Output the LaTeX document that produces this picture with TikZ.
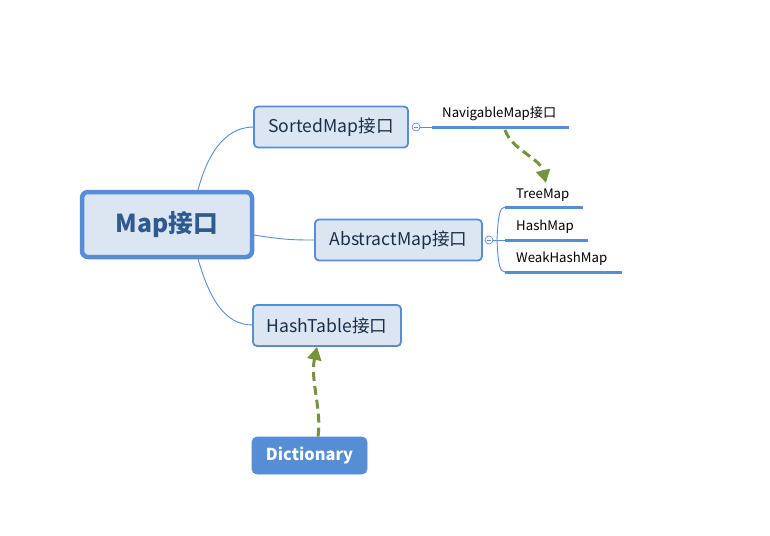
\documentclass[tikz,border=0pt]{standalone}
\usepackage{fontspec}
\setmainfont{Noto Sans CJK SC}
\usetikzlibrary{arrows.meta}
\definecolor{bord}{HTML}{558ED5}
\definecolor{boxfill}{HTML}{DCE6F2}
\definecolor{txt}{HTML}{1B2F4A}
\definecolor{maintxt}{HTML}{2F5A8F}
\definecolor{grn}{HTML}{77933C}
\tikzset{
  topic/.style={draw=bord, fill=boxfill, line width=1.8pt, rounded corners=4pt, text=txt, font=\fontsize{17.6}{20}\selectfont, inner sep=0pt, minimum height=41pt},
  conn/.style={draw=bord, line width=0.9pt},
  under/.style={draw=bord, line width=3pt},
  leaf/.style={font=\fontsize{13.2}{15}\selectfont, text=black, inner sep=0pt, anchor=west},
  knob/.style={circle, draw=bord, fill=white, line width=0.7pt, inner sep=0pt, minimum size=8pt},
  dep/.style={draw=grn, line width=3pt, dash pattern=on 9pt off 5pt, -{Triangle[length=13pt,width=14pt]}}
}
\begin{document}
\begin{tikzpicture}[x=1pt,y=-1pt]
\useasboundingbox (0,0) rectangle (770,535);
% connectors from main
\coordinate (m1) at (198,190);
\coordinate (m2) at (254,235);
\coordinate (m3) at (198,259);
\draw[conn] (m1) .. controls (210,145) and (230,127) .. (254,127);
\draw[conn] (m2) .. controls (285,240) and (295,240) .. (315,240);
\draw[conn] (m3) .. controls (210,300) and (225,325) .. (253,325);
% main
\node[draw=bord, fill=boxfill, line width=4.5pt, rounded corners=6pt, minimum width=170pt, minimum height=65pt, inner sep=0pt, text=maintxt, font=\fontsize{24.7}{28}\bfseries\selectfont] (map) at (167,224.5) {Map接口};
\node[topic, minimum width=154pt] (sorted) at (331,127) {SortedMap接口};
\node[topic, minimum width=167pt] (abs) at (398.5,240) {AbstractMap接口};
\node[topic, minimum width=148pt] (hash) at (327,325.5) {HashTable接口};
\node[draw=bord, fill=bord, line width=0.8pt, rounded corners=5pt, minimum width=115pt, minimum height=37pt, inner sep=0pt, text=white, font=\fontsize{16.4}{19}\bfseries\selectfont] (dict) at (309.5,455.5) {Dictionary};
% navigable
\node[knob] (k1) at (416,127) {};
\draw[bord, line width=0.7pt] ([xshift=-2.3pt]k1.center) -- ([xshift=2.3pt]k1.center);
\coordinate (nv0) at (432,127);
\coordinate (nv1) at (569,127);
\draw[conn] (k1) -- (nv0);
\draw[under] (nv0) -- (nv1);
\node[leaf] (nav) at (442,114) {NavigableMap接口};
% abstract children
\node[knob] (k2) at (489,240) {};
\draw[bord, line width=0.7pt] ([xshift=-2.3pt]k2.center) -- ([xshift=2.3pt]k2.center);
\coordinate (b0) at (497,240);
\coordinate (t0) at (505,207);
\coordinate (t1) at (583,207);
\coordinate (h0) at (505,240);
\coordinate (h1) at (588,240);
\coordinate (w0) at (505,272);
\coordinate (w1) at (622,272);
\draw[conn] (k2) -- (b0);
\draw[conn] (b0) .. controls (498,215) and (500,207) .. (t0);
\draw[conn] (b0) -- (h0);
\draw[conn] (b0) .. controls (498,265) and (500,272) .. (w0);
\draw[under] (t0) -- (t1);
\draw[under] (h0) -- (h1);
\draw[under] (w0) -- (w1);
\node[leaf] (tree) at (516,195) {TreeMap};
\node[leaf] (hm) at (516,227) {HashMap};
\node[leaf] (whm) at (516,259) {WeakHashMap};
% dependency arrows
\coordinate (d0) at (505,130);
\coordinate (d1) at (546,183);
\draw[dep] (d0) .. controls (512,150) and (540,158) .. (d1);
\draw[dep] (dict.north -| 318,0) .. controls (322,410) and (310,380) .. (hash.south -| 317,0);
\end{tikzpicture}
\end{document}
